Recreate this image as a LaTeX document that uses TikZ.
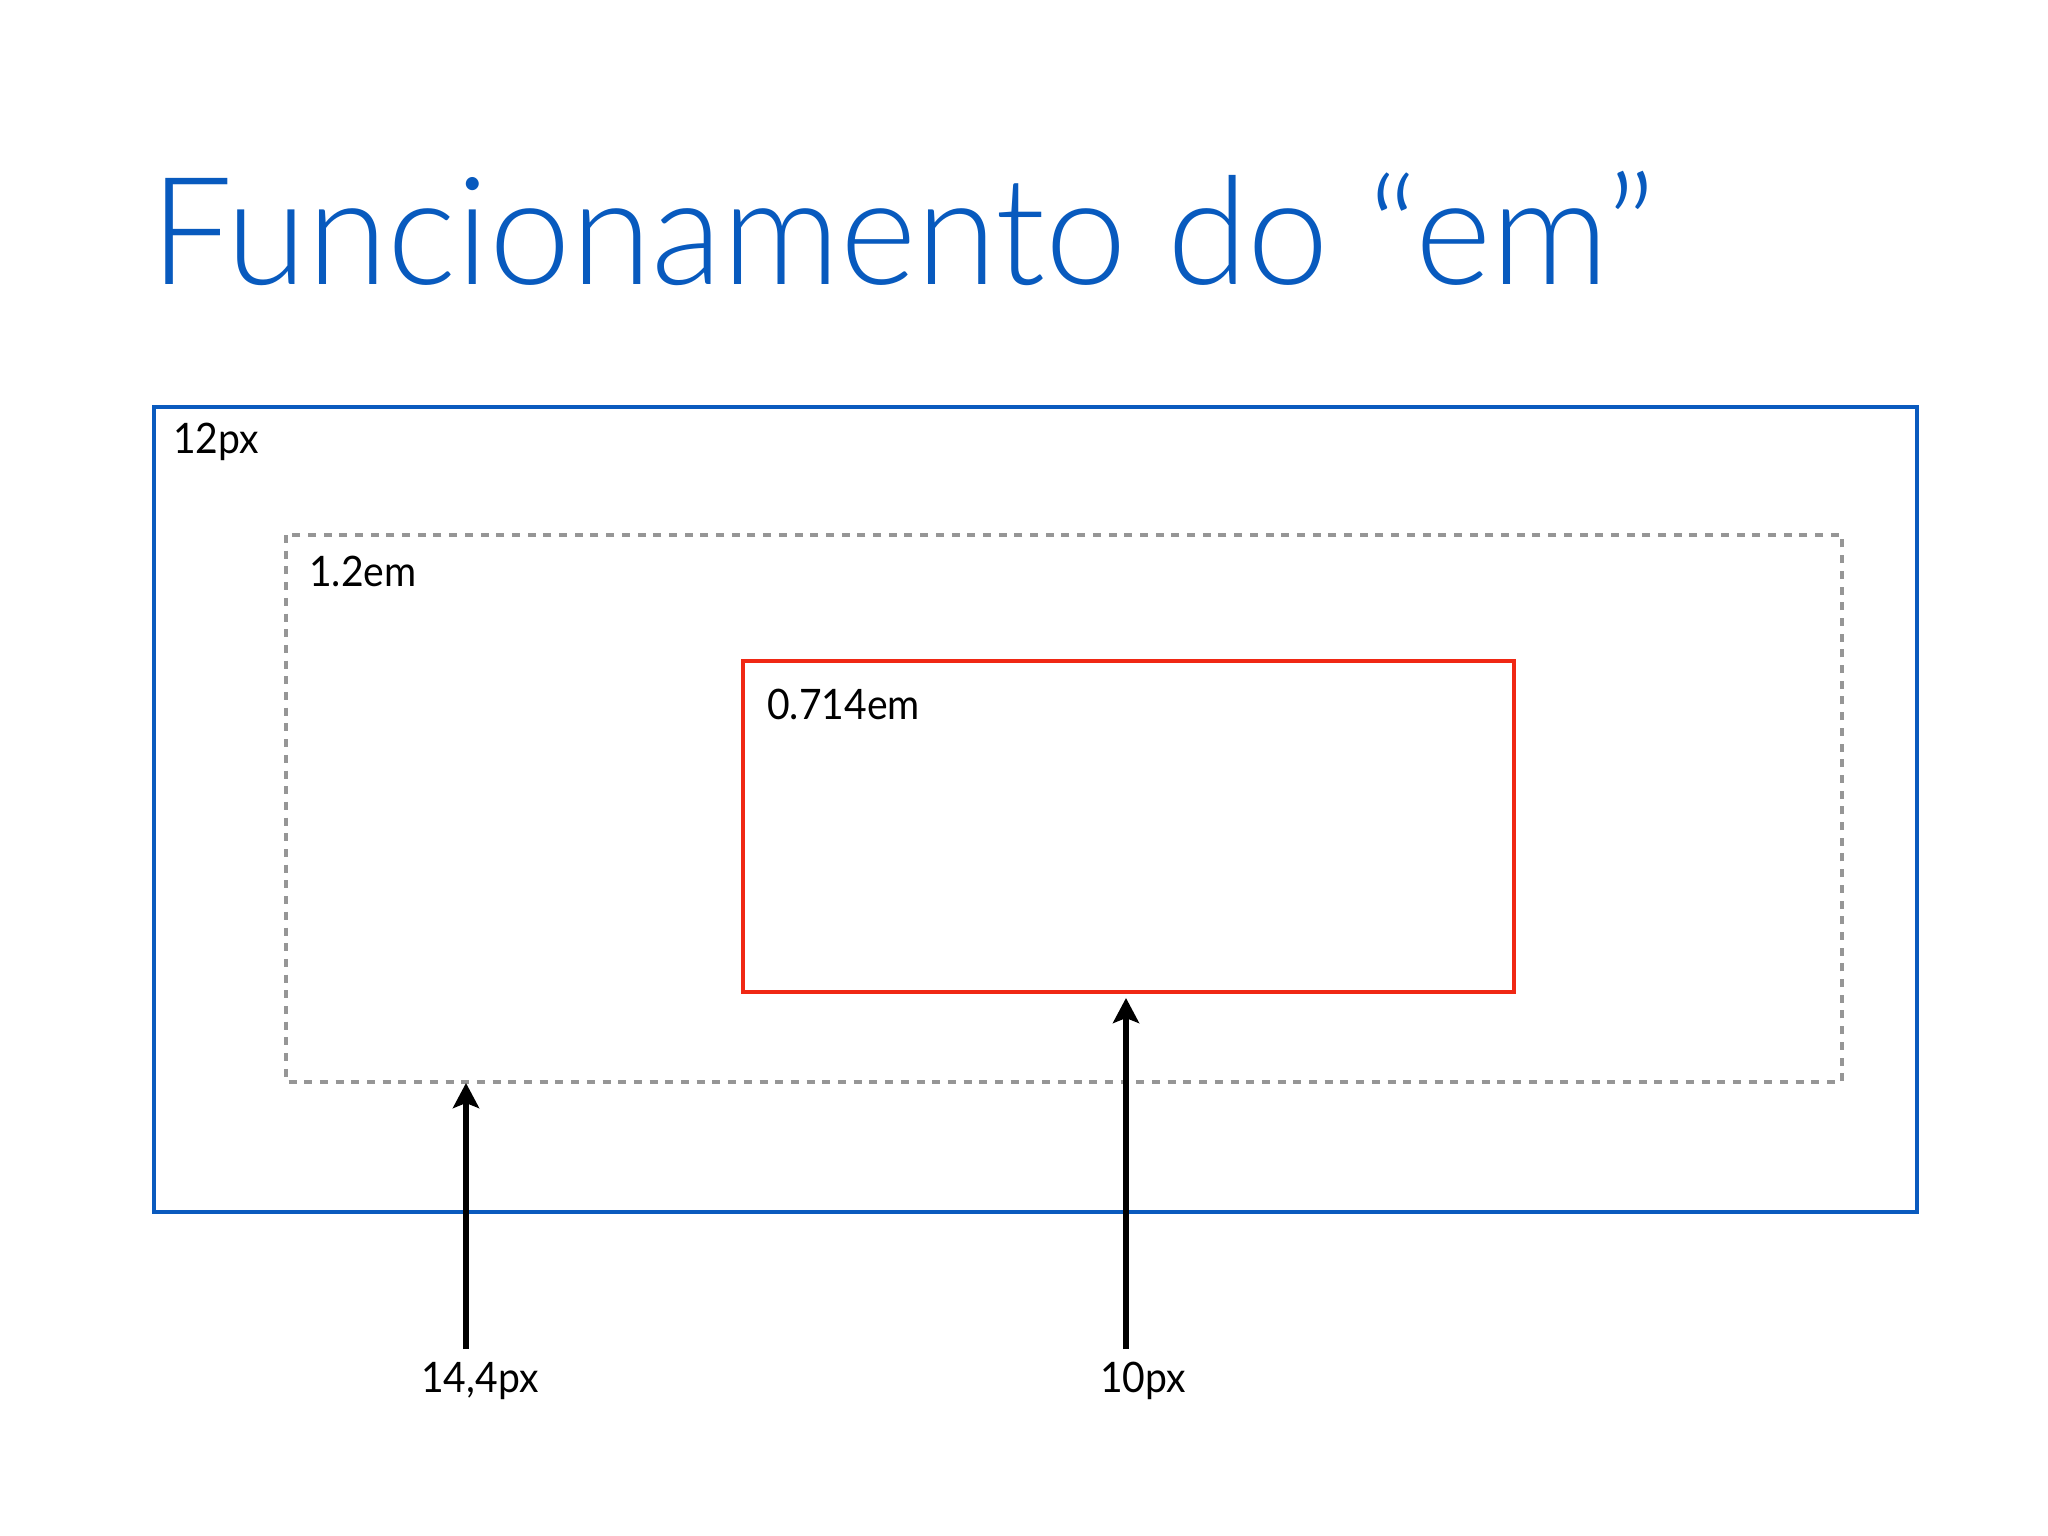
\documentclass[tikz,border=0pt]{standalone}
\usepackage{fontspec}
\setmainfont{Lato}[FakeStretch=0.93]
\newfontfamily\titlefont{Lato Light}[FakeStretch=0.975]
\usetikzlibrary{arrows.meta}
\definecolor{titleblue}{RGB}{8,90,190}
\definecolor{boxblue}{RGB}{10,90,190}
\definecolor{boxred}{RGB}{240,40,20}
\definecolor{dashgray}{RGB}{150,150,150}
\tikzset{
  lbl/.style={anchor=base west, inner sep=0pt, font=\fontsize{42}{44}\selectfont},
  ptr/.style={line width=6pt, -{Stealth[length=25pt,width=26pt,inset=5pt]}},
}
\begin{document}
\begin{tikzpicture}[x=1pt,y=-1pt]
\useasboundingbox (0,0) rectangle (2048,1536);
\fill[white] (0,0) rectangle (2048,1536);
\node[anchor=base west, inner sep=0pt, text=titleblue, font=\titlefont\fontsize{150}{155}\selectfont] (title) at (150,284) {Funcionamento do “em”};
\draw[boxblue, line width=4pt] (154,407) rectangle (1917,1212);
\draw[dashgray, line width=4pt, dash pattern=on 8pt off 7.7pt] (286,535) rectangle (1842,1082);
\draw[boxred, line width=4pt] (743,661) rectangle (1514,992);
\node[lbl] (l12) at (173,453) {12px};
\node[lbl] (l12em) at (309,586) {1.2em};
\node[lbl] (l0714) at (767,719) {0.714em};
\coordinate (t1) at (466,1083);
\coordinate (b1) at (466,1349);
\coordinate (t2) at (1126,998);
\coordinate (b2) at (1126,1349);
\draw[ptr] (b1) -- (t1);
\draw[ptr] (b2) -- (t2);
\node[lbl] (l144) at (421,1392) {14,4px};
\node[lbl] (l10) at (1100,1392) {10px};
\end{tikzpicture}
\end{document}
